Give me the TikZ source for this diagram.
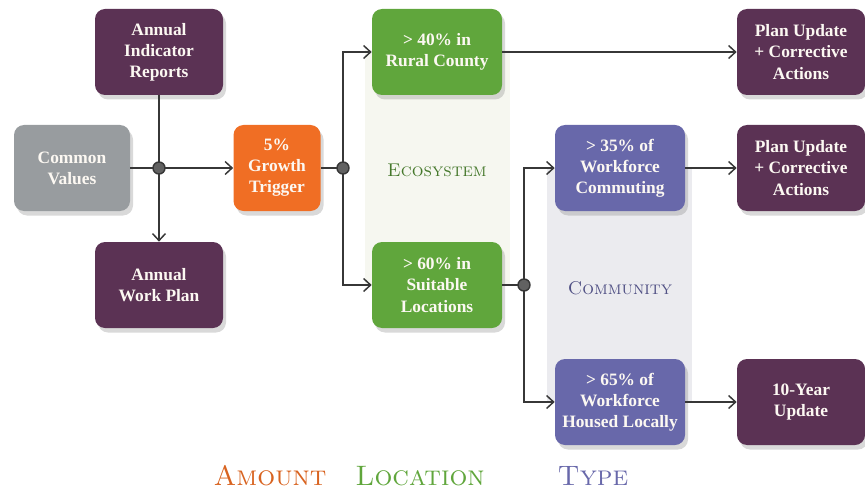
\documentclass[tikz,border=0pt]{standalone}
\usepackage{fontspec}
\usepackage{tikz}
\usetikzlibrary{positioning,arrows.meta,shadows}
\newfontfamily\boxfont{Liberation Serif}

\definecolor{plum}{RGB}{91,50,84}
\definecolor{stone}{RGB}{152,156,159}
\definecolor{tangerine}{RGB}{240,110,36}
\definecolor{leaf}{RGB}{96,166,60}
\definecolor{iris}{RGB}{104,104,170}
\definecolor{cream}{RGB}{252,248,242}
\definecolor{wire}{RGB}{55,55,55}
\definecolor{ecopanel}{RGB}{246,247,240}
\definecolor{companel}{RGB}{235,235,239}

\begin{document}
\begin{tikzpicture}[
   card/.style={draw=none, rectangle, rounded corners=0.2cm, text=cream, align=center,
      font=\boxfont\fontsize{9.9}{12}\selectfont\bfseries, minimum height=1.72cm,
      drop shadow={opacity=0.3, shadow xshift=0.06cm, shadow yshift=-0.09cm}},
   boxplum/.style={card, fill=plum, minimum width=2.56cm},
   boxgray/.style={card, fill=stone, minimum width=2.32cm},
   boxorange/.style={card, fill=tangerine, minimum width=1.74cm},
   boxgreen/.style={card, fill=leaf, minimum width=2.6cm},
   boxblue/.style={card, fill=iris, minimum width=2.6cm},
   dot/.style={circle, draw=wire, fill=black!62, line width=0.8pt, inner sep=0pt, minimum size=0.24cm},
   link/.style={draw=wire, line width=0.85pt, -{Straight Barb[length=0.14cm, width=0.26cm]}},
   tag/.style={font=\fontsize{16}{18}\selectfont\scshape}
]
\useasboundingbox (0,0) rectangle (17.3,-9.82);

% Background panels
\fill[ecopanel] (7.30,-1.0) rectangle (10.20,-5.7);
\fill[companel] (10.94,-3.36) rectangle (13.84,-8.04);

% Nodes
\node [boxplum] (reports) at (3.18,-1.04) {Annual\\Indicator\\Reports};
\node [boxgray] (values) at (1.44,-3.36) {Common\\Values};
\node [boxplum] (workplan) at (3.18,-5.70) {Annual\\Work Plan};
\node [boxorange] (trigger) at (5.54,-3.36) {5\%\\Growth\\Trigger};
\node [boxgreen] (rural) at (8.74,-1.04) {> 40\% in\\Rural County};
\node [boxgreen] (suitable) at (8.74,-5.70) {> 60\% in\\Suitable\\Locations};
\node [boxblue] (commuting) at (12.40,-3.36) {> 35\% of\\Workforce\\Commuting};
\node [boxblue] (housed) at (12.40,-8.04) {> 65\% of\\Workforce\\Housed Locally};
\node [boxplum] (update1) at (16.02,-1.04) {Plan Update\\+ Corrective\\Actions};
\node [boxplum] (update2) at (16.02,-3.36) {Plan Update\\+ Corrective\\Actions};
\node [boxplum] (tenyear) at (16.02,-8.04) {10-Year\\Update};

% Junctions
\coordinate (j1) at (3.18,-3.36);
\coordinate (j2) at (6.86,-3.36);
\coordinate (j3) at (10.48,-5.70);

% Arrows
\draw[link] (reports) -- (workplan);
\draw[link] (values) -- (trigger);
\draw[draw=wire, line width=0.85pt] (trigger) -- (j2);
\draw[link] (j2) |- (rural);
\draw[link] (j2) |- (suitable);
\draw[link] (rural) -- (update1);
\draw[draw=wire, line width=0.85pt] (suitable) -- (j3);
\draw[link] (j3) |- (commuting);
\draw[link] (j3) |- (housed);
\draw[link] (commuting) -- (update2);
\draw[link] (housed) -- (tenyear);

\node [dot] (d1) at (j1) {};
\node [dot] (d2) at (j2) {};
\node [dot] (d3) at (j3) {};

% Labels
\node [font=\fontsize{10.5}{12}\selectfont\scshape, text=leaf!72!black] (eco) at (8.74,-3.40) {Ecosystem};
\node [font=\fontsize{10.5}{12}\selectfont\scshape, text=iris!78!black] (com) at (12.40,-5.76) {Community};
\node [tag, text=tangerine!90!black] (amount) at (5.40,-9.52) {Amount};
\node [tag, text=leaf] (location) at (8.40,-9.52) {Location};
\node [tag, text=iris] (type) at (11.86,-9.52) {Type};
\end{tikzpicture}
\end{document}
